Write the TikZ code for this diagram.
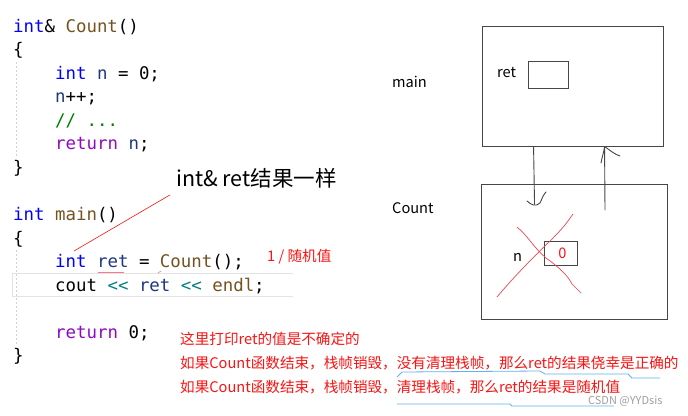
\documentclass[tikz,border=0pt]{standalone}
\usepackage{fontspec}
\usetikzlibrary{positioning, calc}
\newfontfamily\codefont{DejaVu Sans Mono}
\newfontfamily\cjk{Noto Sans CJK SC}
\definecolor{KwBlue}{RGB}{0,0,255}
\definecolor{FnBrown}{RGB}{116,83,31}
\definecolor{VarNavy}{RGB}{31,55,127}
\definecolor{RetPurple}{RGB}{143,8,196}
\definecolor{CmtGreen}{RGB}{0,128,0}
\definecolor{OpTeal}{RGB}{0,128,128}
\definecolor{NoteRed}{RGB}{250,20,20}
\definecolor{CrossRed}{RGB}{240,70,85}
\definecolor{MarkBlue}{RGB}{95,180,235}
\definecolor{BoxGray}{RGB}{70,70,70}

\tikzset{
  code/.style={font=\codefont\fontsize{17.4}{20}\selectfont, inner sep=0pt, anchor=base west},
  note/.style={font=\cjk\fontsize{14.6}{17}\selectfont, text=NoteRed, inner sep=0pt, anchor=base west},
  framelabel/.style={font=\cjk\fontsize{14.6}{17}\selectfont, inner sep=0pt, anchor=base west},
  frame/.style={draw=BoxGray, line width=0.9pt, inner sep=0pt},
  hand/.style={draw=BoxGray, line width=0.9pt, line cap=round, line join=round},
  guide/.style={draw=gray!35, line width=0.8pt, dash pattern=on 2pt off 2pt}
}
\newcommand{\kw}[1]{\textcolor{KwBlue}{#1}}
\newcommand{\fn}[1]{\textcolor{FnBrown}{#1}}
\newcommand{\var}[1]{\textcolor{VarNavy}{#1}}

\begin{document}
\begin{tikzpicture}[x=1pt, y=-1pt]
  \useasboundingbox (0,0) rectangle (688,415);
  \fill[white] (0,0) rectangle (688,415);

  % code of Count and main
  \draw[guide] (16,62) -- (16,158);
  \draw[guide] (16,250) -- (16,346);
  \draw[gray!22, line width=0.9pt] (293,273) -- (12,273) -- (12,296) -- (293,296);
  \node[code] (c1) at (13,32) {\kw{int}\& \fn{Count}()};
  \node[code] (c2) at (13,55.5) {\{};
  \node[code] (c3) at (55,79) {\kw{int} \var{n} = 0;};
  \node[code] (c4) at (55,102.5) {\var{n}++;};
  \node[code] (c5) at (55,126) {\textcolor{CmtGreen}{// ...}};
  \node[code] (c6) at (55,149.5) {\textcolor{RetPurple}{return} \var{n};};
  \node[code] (c7) at (13,173) {\}};
  \node[code] (m1) at (13,220.5) {\kw{int} \fn{main}()};
  \node[code] (m2) at (13,244) {\{};
  \node[code] (m3) at (55,267.5) {\kw{int} \var{ret} = \fn{Count}();};
  \node[code] (m4) at (55,291) {cout \textcolor{OpTeal}{<<} \var{ret} \textcolor{OpTeal}{<<} \fn{endl};};
  \node[code] (m5) at (55,338) {\textcolor{RetPurple}{return} 0;};
  \node[code] (m6) at (13,361.5) {\}};
  \draw[CrossRed!70, line width=0.8pt] (98,272) -- (124,272);
  \draw[CrossRed!70, line width=0.6pt] (158,273) -- (161,271);

  % notes
  \node[font=\cjk\fontsize{21.5}{25}\selectfont, inner sep=0pt, anchor=base west] (same) at (176,186) {int\& ret结果一样};
  \coordinate (retmark) at (74,251);
  \draw[NoteRed, line width=0.6pt] ($(same.south west)+(-6,7)$) -- (retmark);
  \node[note] (randval) at (267,261) {1 / 随机值};
  \node[note] (n1) at (180,344) {这里打印ret的值是不确定的};
  \node[note] (n2) at (180,368) {如果Count函数结束，栈帧销毁，没有清理栈帧，那么ret的结果侥幸是正确的};
  \node[note] (n3) at (180,392) {如果Count函数结束，栈帧销毁，清理栈帧，那么ret的结果是随机值};
  \draw[MarkBlue, line width=0.8pt] (397,377) -- (402,372) -- (540,371) -- (545,374) -- (628,374) -- (632,378) -- (660,378);
  \draw[MarkBlue, line width=0.8pt] (397,404) -- (510,404) -- (512,406) -- (614,406);
  \node[font=\cjk\fontsize{11}{13}\selectfont, text=gray!75, inner sep=0pt, anchor=base west] (mark) at (588,404) {CSDN @YYDsis};

  % stack frames
  \node[framelabel] (mainlbl) at (392,87) {main};
  \node[framelabel] (countlbl) at (392,213) {Count};
  \node[frame, minimum width=181, minimum height=120] (mainframe) at (572.5,86) {};
  \node[frame, minimum width=186, minimum height=135] (countframe) at (574,251.5) {};
  \node[framelabel] (retlbl) at (497,77) {ret};
  \node[frame, minimum width=40, minimum height=27] (retcell) at (548,74.5) {};
  \node[framelabel] (nlbl) at (513,261) {n};
  \node[frame, minimum width=33, minimum height=24, font=\cjk\fontsize{14.6}{17}\selectfont, text=NoteRed] (ncell) at (560.5,253) {\hspace{4pt}0};

  % call and return
  \coordinate (hookleft) at (527,201);
  \coordinate (hookright) at (546,192);
  \draw[hand] ($(mainframe.south west)+(52,0)$) -- ++(1,58);
  \draw[hand] (hookleft) .. controls (531,205) and (536,207) .. (540,203)
    .. controls (542,199) and (543,195) .. (hookright);
  \coordinate (upstart) at (605,210);
  \coordinate (uptip) at ($(mainframe.south west)+(123,0)$);
  \draw[hand] (upstart) -- (uptip);
  \draw[hand] (601,163) .. controls (602,157) and (604,152) .. (uptip)
    .. controls (611,151) and (614,154) .. (620,156);

  % n destroyed
  \draw[CrossRed, line width=0.7pt] (497,297) .. controls (518,272) and (536,255) .. (553,238)
    .. controls (562,229) and (566,224) .. (573,214);
  \draw[CrossRed, line width=0.7pt] (517,227) .. controls (528,236) and (534,248) .. (546,258)
    .. controls (560,268) and (568,276) .. (572,284) -- (581,293);
\end{tikzpicture}
\end{document}
